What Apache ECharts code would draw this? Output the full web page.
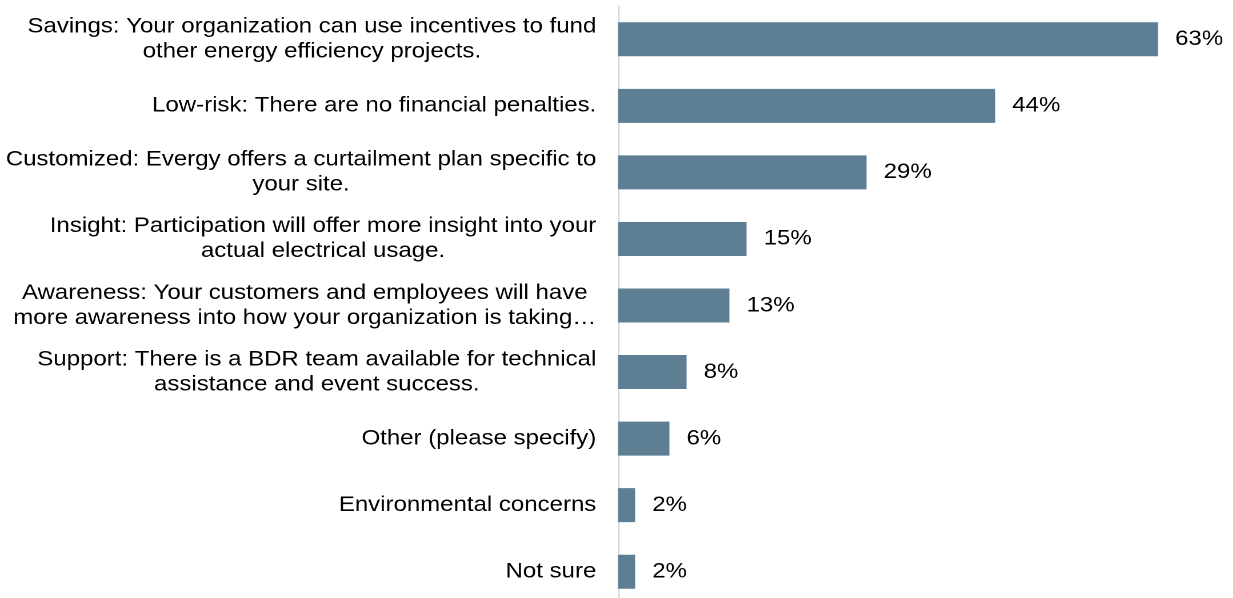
<!DOCTYPE html>
<html>
<head>
<meta charset="utf-8">
<script src="https://cdn.jsdelivr.net/npm/echarts@6/dist/echarts.min.js"></script>
<style>
  html, body { margin: 0; padding: 0; background: #ffffff; overflow: hidden; }
  /* the chart is laid out narrower and widened, giving the broad letterforms */
  #chart {
    width: 1079px; height: 598px;
    transform-origin: 0 0;
    transform: scaleX(1.142857);
  }
</style>
</head>
<body>
<div id="chart"></div>
<script>
// Reasons for participating, top to bottom
const categories = [
  'Savings: Your organization can use incentives to fund\nother energy efficiency projects.',
  'Low-risk: There are no financial penalties.',
  'Customized: Evergy offers a curtailment plan specific to\nyour site.',
  'Insight: Participation will offer more insight into your\nactual electrical usage.',
  'Awareness: Your customers and employees will have\nmore awareness into how your organization is taking\u2026',
  'Support: There is a BDR team available for technical\nassistance and event success.',
  'Other (please specify)',
  'Environmental concerns',
  'Not sure'
];
// Share of respondents (%)
const values = [63, 44, 29, 15, 13, 8, 6, 2, 2];

const chart = echarts.init(document.getElementById('chart'), null, {
  renderer: 'canvas',
  devicePixelRatio: 2
});

const FONT = '"Liberation Sans", Arial, sans-serif';

chart.setOption({
  animation: false,
  backgroundColor: '#ffffff',
  grid: {
    left: 540.75, width: 525, top: 6, height: 599,
    containLabel: false,
    outerBoundsMode: 'none'
  },
  xAxis: {
    type: 'value',
    min: 0,
    max: 70,
    show: false
  },
  yAxis: {
    type: 'category',
    inverse: true,
    data: categories,
    axisLine: { show: true, lineStyle: { color: '#D9D9D9', width: 1.4 } },
    axisTick: { show: false },
    axisLabel: {
      margin: 19,
      align: 'right',
      color: '#000000',
      fontFamily: FONT,
      fontSize: 21,
      lineHeight: 25,
      formatter: function (v) {
        return v.split('\n').map(function (l) { return '{c|' + l + '}'; }).join('\n');
      },
      rich: {
        c: { align: 'center', fontFamily: FONT, fontSize: 21, lineHeight: 25, color: '#000000' }
      }
    }
  },
  series: [{
    type: 'bar',
    data: values,
    barWidth: 34,
    itemStyle: { color: '#5E7F93' },
    label: {
      show: true,
      position: 'right',
      distance: 15,
      formatter: '{c}%',
      color: '#000000',
      fontFamily: FONT,
      fontSize: 21
    }
  }]
});
</script>
</body>
</html>
